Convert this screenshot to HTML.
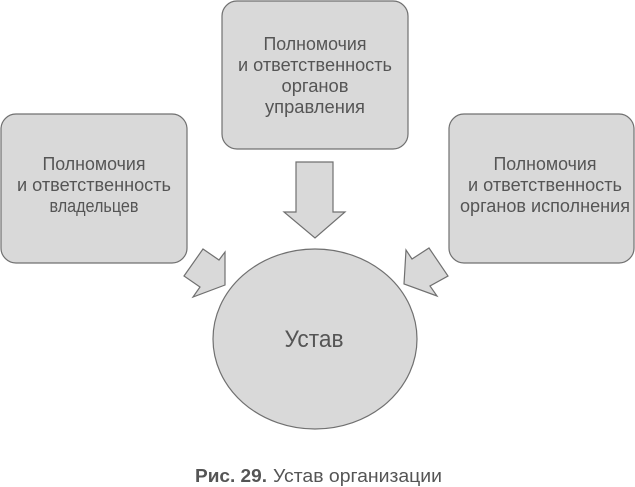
<!DOCTYPE html>
<html lang="ru">
<head>
<meta charset="utf-8">
<style>
html,body{margin:0;padding:0;background:#fff;width:635px;height:487px;overflow:hidden}
svg{display:block}
text{font-family:"Liberation Sans",sans-serif;fill:#555;font-size:18px;text-anchor:middle}
.s{fill:#d9d9d9;stroke:#707070;stroke-width:1.2}
</style>
</head>
<body>
<svg width="635" height="487" viewBox="0 0 635 487" xmlns="http://www.w3.org/2000/svg">
<rect class="s" x="222" y="1" width="186" height="148" rx="15"/>
<rect class="s" x="1" y="114" width="186" height="149" rx="15"/>
<rect class="s" x="449" y="114" width="185" height="149" rx="15"/>
<ellipse class="s" cx="315" cy="339" rx="102" ry="90"/>
<polygon class="s" points="296,162 333,162 333,212 345,212 315,238 284,212 296,212"/>
<polygon class="s" points="203,249 219,260 225,252 225,285 193,297 200,287 184,276"/>
<polygon class="s" points="429,248 448,276 430,286 437,296 404,284 406,250 412,259"/>
<text x="315" y="50" textLength="103" lengthAdjust="spacingAndGlyphs">Полномочия</text>
<text x="315" y="71" textLength="154" lengthAdjust="spacingAndGlyphs">и ответственность</text>
<text x="315" y="92" textLength="67" lengthAdjust="spacingAndGlyphs">органов</text>
<text x="315" y="113" textLength="100" lengthAdjust="spacingAndGlyphs">управления</text>
<text x="94" y="170" textLength="103" lengthAdjust="spacingAndGlyphs">Полномочия</text>
<text x="94" y="191" textLength="154" lengthAdjust="spacingAndGlyphs">и ответственность</text>
<text x="94" y="212" textLength="89" lengthAdjust="spacingAndGlyphs">владельцев</text>
<text x="545" y="170" textLength="103" lengthAdjust="spacingAndGlyphs">Полномочия</text>
<text x="545" y="191" textLength="154" lengthAdjust="spacingAndGlyphs">и ответственность</text>
<text x="545" y="212" textLength="170" lengthAdjust="spacingAndGlyphs">органов исполнения</text>
<text x="314" y="347" style="font-size:24px" textLength="59" lengthAdjust="spacingAndGlyphs">Устав</text>
<text x="195" y="482" style="font-size:18.5px;font-weight:bold;text-anchor:start" textLength="72" lengthAdjust="spacingAndGlyphs">Рис. 29.</text>
<text x="273" y="482" style="font-size:18.5px;text-anchor:start" textLength="169" lengthAdjust="spacingAndGlyphs">Устав организации</text>
</svg>
</body>
</html>
